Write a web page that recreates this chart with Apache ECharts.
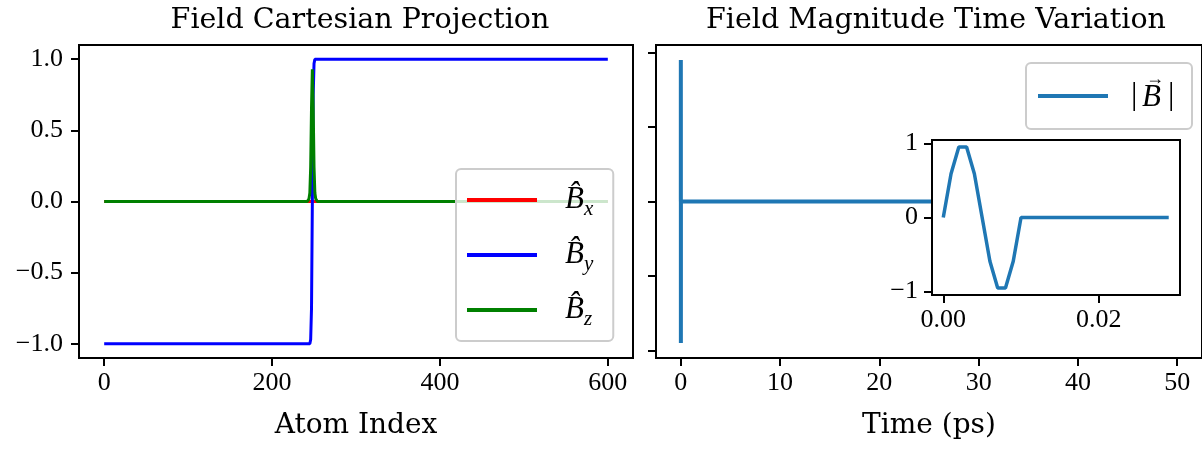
<!DOCTYPE html>
<html>
<head>
<meta charset="utf-8">
<script src="https://cdn.jsdelivr.net/npm/echarts@6/dist/echarts.min.js"></script>
<style>
html,body{margin:0;padding:0;background:#fff;}
#c{width:1202px;height:449px;}
</style>
</head>
<body>
<div id="c"></div>
<script>
// ---- data ----
const titles = ['Field Cartesian Projection', 'Field Magnitude Time Variation'];
const xLabels = ['Atom Index', 'Time (ps)'];

const atomIndex = [0, 242, 244, 245, 246, 247, 248, 249, 250, 251, 252, 254, 600];
const bx =        [0, 0,   0,   0,   0,   0,   0,   0,   0,   0,   0,   0,   0];
const by =        [-1, -1, -1,  -1, -0.97, -0.75, 0, 0.75, 0.97, 1,  1,   1,   1];
const bz =        [0, 0, 0.02, 0.06, 0.24, 0.66, 0.93, 0.66, 0.24, 0.06, 0.02, 0, 0];

const timePs = [0, 0.001, 0.002, 0.003, 0.004, 0.005, 0.006, 0.007, 0.008, 0.009,
                0.010, 0.011, 0.012, 0.013, 0.014, 0.015, 0.016, 0.017, 0.018, 0.019,
                0.020, 0.021, 0.022, 0.023, 0.024, 0.025, 0.026, 0.027, 0.028, 0.029];
const fieldMag = [0, 0.59, 0.95, 0.95, 0.59, 0, -0.59, -0.95, -0.95, -0.59,
                  0, 0, 0, 0, 0, 0, 0, 0, 0, 0,
                  0, 0, 0, 0, 0, 0, 0, 0, 0, 0];
const endTime = [50];
const endField = [0];

const leftXTicks = [0, 200, 400, 600];
const leftYTicks = [-1, -0.5, 0, 0.5, 1];
const rightXTicks = [0, 10, 20, 30, 40, 50];
const rightYTicks = [-1, -0.5, 0, 0.5, 1];
const insetXTicks = [0, 0.02];
const insetYTicks = [-1, 0, 1];

// ---- helpers ----
const FONT = 'Liberation Serif';
const TFONT = 'DejaVu Serif';
const minus = s => String(s).replace('-', '\u2212');
const zip = (a, b) => a.map((v, i) => [v, b[i]]);

const tickStyle = {show: true, length: 8, lineStyle: {color: '#000', width: 2}};
const lbl = (vals, fmt, margin) => ({
  show: true, customValues: vals, formatter: fmt, margin: margin,
  color: '#000', fontFamily: FONT, fontSize: 26
});
function axis(gi, min, max, ticks, fmt, margin, extra) {
  return Object.assign({
    type: 'value', gridIndex: gi, min: min, max: max,
    axisLine: {show: false, onZero: false},
    axisTick: Object.assign({customValues: ticks}, tickStyle),
    axisLabel: fmt ? lbl(ticks, fmt, margin) : {show: false},
    splitLine: {show: false}
  }, extra || {});
}

const chart = echarts.init(document.getElementById('c'), null, {renderer: 'canvas'});

const legendRich = {
  h: {width: 23, height: 40, lineHeight: 40},
  w: {width: 38, height: 40, lineHeight: 40},
  b: {fontFamily: FONT, fontStyle: 'italic', fontSize: 31, lineHeight: 31, verticalAlign: 'middle', color: '#000'},
  s: {fontFamily: FONT, fontStyle: 'italic', fontSize: 21, lineHeight: 21, verticalAlign: 'bottom', color: '#000'}
};
const legendNames = {Bx: 'x', By: 'y', Bz: 'z'};

chart.setOption({
  animation: false,
  backgroundColor: '#fff',
  title: [
    {text: titles[0], left: 355, top: 1, textAlign: 'center',
     textStyle: {fontFamily: TFONT, fontSize: 28.5, fontWeight: 'normal', color: '#000'}},
    {text: titles[1], left: 931, top: 1, textAlign: 'center',
     textStyle: {fontFamily: TFONT, fontSize: 28.5, fontWeight: 'normal', color: '#000'}}
  ],
  grid: [
    {left: 79, top: 45, width: 554, height: 313, show: true, borderColor: '#000', borderWidth: 2, backgroundColor: 'transparent', z: 0},
    {left: 656, top: 45, width: 552, height: 313, show: true, borderColor: '#000', borderWidth: 2, backgroundColor: 'transparent', z: 0},
    {left: 932, top: 140, width: 248, height: 155, show: true, borderColor: '#000', borderWidth: 2, backgroundColor: '#fff', z: 5}
  ],
  xAxis: [
    axis(0, -30, 630, leftXTicks, v => String(v), 12,
      {name: xLabels[0], nameLocation: 'middle', nameGap: 54,
       nameTextStyle: {fontFamily: TFONT, fontSize: 28, color: '#000'}}),
    axis(1, -2.5, 52.5, rightXTicks, v => String(v), 12,
      {name: xLabels[1], nameLocation: 'middle', nameGap: 54,
       nameTextStyle: {fontFamily: TFONT, fontSize: 28, color: '#000'}}),
    axis(2, -0.00145, 0.03045, insetXTicks, v => v.toFixed(2), 12, {z: 6})
  ],
  yAxis: [
    axis(0, -1.1, 1.1, leftYTicks, v => minus(v.toFixed(1)), 16),
    axis(1, -1.05, 1.05, rightYTicks, null, 0),
    axis(2, -1.045, 1.045, insetYTicks, v => minus(v), 14, {z: 6})
  ],
  legend: [
    {
      data: ['Bx', 'By', 'Bz'], orient: 'vertical', left: 456, top: 169,
      padding: [11, 20, 11, 11], itemGap: 15, itemWidth: 70, itemHeight: 4, itemTextGap: 5,
      icon: 'rect', backgroundColor: 'rgba(255,255,255,0.8)', borderColor: '#cccccc',
      borderWidth: 2, borderRadius: 5,
      formatter: n => '{h|}{b|B\u0302}{s|' + legendNames[n] + '}',
      textStyle: {rich: legendRich}
    },
    {
      data: ['B'], orient: 'vertical', left: 1026, top: 63,
      padding: [13, 18, 13, 12], itemWidth: 70, itemHeight: 4, itemTextGap: 5,
      icon: 'rect', backgroundColor: 'rgba(255,255,255,0.8)', borderColor: '#cccccc',
      borderWidth: 2, borderRadius: 5,
      formatter: () => '{h|}{w|}',
      textStyle: {rich: legendRich}
    }
  ],
  graphic: [
    {type: 'text', left: 1131, top: 80, z: 100,
     style: {text: '|', fontFamily: FONT, fontSize: 32, fill: '#000'}},
    {type: 'text', left: 1142, top: 82, z: 100,
     style: {text: 'B', fontFamily: FONT, fontStyle: 'italic', fontSize: 31, fill: '#000'}},
    {type: 'text', left: 1146, top: 70, z: 100,
     style: {text: '\u2192', fontFamily: FONT, fontSize: 18, fill: '#000'}},
    {type: 'text', left: 1168, top: 80, z: 100,
     style: {text: '|', fontFamily: FONT, fontSize: 32, fill: '#000'}}
  ],
  series: [
    {name: 'Bx', type: 'line', xAxisIndex: 0, yAxisIndex: 0, data: zip(atomIndex, bx),
     showSymbol: false, lineStyle: {color: '#ff0000', width: 3}, itemStyle: {color: '#ff0000'}},
    {name: 'By', type: 'line', xAxisIndex: 0, yAxisIndex: 0, data: zip(atomIndex, by),
     showSymbol: false, lineStyle: {color: '#0000ff', width: 3}, itemStyle: {color: '#0000ff'}},
    {name: 'Bz', type: 'line', xAxisIndex: 0, yAxisIndex: 0, data: zip(atomIndex, bz),
     showSymbol: false, lineStyle: {color: '#008000', width: 3}, itemStyle: {color: '#008000'}},
    {name: 'B', type: 'line', xAxisIndex: 1, yAxisIndex: 1, z: 1,
     data: zip(timePs, fieldMag).concat(zip(endTime, endField)),
     showSymbol: false, lineStyle: {color: '#1f77b4', width: 4, cap: 'round'}, itemStyle: {color: '#1f77b4'}},
    {name: 'inset', type: 'line', xAxisIndex: 2, yAxisIndex: 2, z: 7,
     data: zip(timePs, fieldMag),
     showSymbol: false, lineStyle: {color: '#1f77b4', width: 3.5}, itemStyle: {color: '#1f77b4'}}
  ]
});
</script>
</body>
</html>
